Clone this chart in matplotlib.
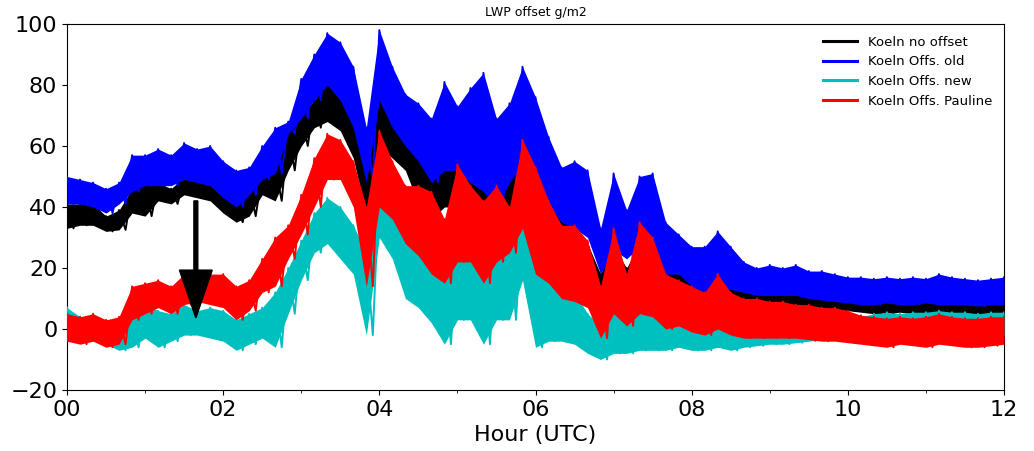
import numpy as np
import matplotlib
matplotlib.use("Agg")
import matplotlib.pyplot as plt

# sample hours (10-minute steps, 0..12 h); hi/lo = visible extent of each band
hours = np.arange(73) / 6.0

black_hi = [41, 41, 41, 37, 39, 46, 47, 48, 46, 50, 49, 47,
            44, 42, 47, 51, 53, 65, 70, 75, 81, 76, 67, 50,
            79, 68, 62, 58, 49, 54, 56, 49, 47, 40, 49, 58,
            45, 42, 36, 33, 28, 18, 27, 20, 28, 26, 19, 18,
            17, 16, 20, 15, 14, 13, 13, 13, 12.5, 12, 11.5, 11,
            10.5, 10, 10, 9.5, 10, 9.5, 9.5, 10, 9.5, 9.5, 9, 9.5, 9.5]
black_lo = [33, 34, 34, 32, 32.5, 38, 37, 42, 41, 44, 43, 42,
            38, 35, 37, 44, 42, 52, 60, 66, 68, 65, 56, 37,
            60, 56, 52, 41, 36, 40, 40, 38, 36, 31, 40, 44,
            35, 33, 28, 24, 20, 10, 15, 12, 15, 15, 12, 12,
            10, 10, 11, 10, 9, 8.5, 8.5, 8, 8, 7.5, 7, 6.5,
            6, 5.5, 5, 5, 5.5, 5, 5, 5.5, 5, 5, 4.5, 5, 5]

blue_hi = [50, 49, 48, 46, 48, 57, 57, 59, 57, 61, 59, 60,
           55, 52, 53, 60, 66, 68, 82, 90, 97, 94, 86, 66,
           98, 86, 77, 74, 69, 81, 73, 79, 84, 69, 74, 86,
           76, 63, 53, 55, 52, 33, 51, 39, 50, 51, 35, 31,
           27, 27, 32, 27, 22, 20, 21, 20, 21, 19, 19, 18,
           17, 17, 16.5, 17, 16.5, 17, 16.5, 18, 17, 16.5, 16, 16.5, 17]
blue_lo = [41, 41, 40, 38, 41, 45, 47, 47, 47, 49, 48, 47,
           43, 40, 44, 49, 51, 64, 69, 75, 80, 75, 66, 48,
           75, 66, 60, 55, 48, 52, 52, 48, 45, 40, 48, 55,
           44, 41, 35, 33, 30, 18, 26, 23, 27, 25, 18, 18,
           14, 12, 14, 13, 12, 11, 11, 11, 11, 10, 9.5, 9,
           8.5, 8, 8, 8.5, 8, 8, 8.5, 8, 8, 8, 7.5, 8, 8]

cyan_hi = [7, 4, 4, 2, 0, 3, 8, 6, 5, 8, 6, 7,
           6, 3, 5, 7, 12, 20, 29, 38, 43, 40, 34, 25,
           48, 38, 31, 29, 25, 23, 27, 25, 23, 31, 31, 38,
           23, 18, 14, 12, 5, 1, 7, 3, 5, 5, 1, 1,
           1, 1, 4, 1, 0, 0, 0, 1, 1, 2, 2, 2.5,
           3, 4, 5, 5.5, 5, 5.5, 5.5, 6, 5.5, 5.5, 5, 5.5, 5.5]
cyan_lo = [-4, -4, -4, -5, -7, -6, -3, -6, -4, -2, -2, -3,
           -4, -7, -5, -3, -6, 5, 16, 25, 28, 23, 18, -2,
           30, 23, 10, 7, 2, -5, 3, 3, -5, 3, 3, 16,
           -6, -4, -4, -5, -8, -10, -8, -8, -7, -7, -7, -6,
           -7, -7, -6, -7, -6, -5.5, -5, -5, -4.5, -4, -3.5, -3,
           -3, -3, -2.5, -2.5, -3, -2.5, -2.5, -2, -2.5, -2.5, -2.5, -2, -2]

red_hi = [5, 4, 5, 3, 4, 14, 15, 16, 14, 18, 19, 18,
          18, 14, 16, 23, 30, 34, 44, 56, 64, 62, 55, 40,
          65, 55, 47, 47, 45, 36, 54, 47, 42, 47, 40, 62,
          53, 42, 34, 34, 29, 14, 33, 18, 35, 30, 18, 16,
          14, 12, 18, 12, 10, 10, 9, 9, 8, 8, 7, 7,
          6, 4.5, 4, 3.5, 4, 3.5, 4, 5, 4, 3.5, 3.5, 4, 4]
red_lo = [-4, -5, -4, -6, -5, 3, 5, 7, 5, 8, 9, 8,
          7, 3, 6, 12, 14, 23, 31, 40, 49, 49, 40, 14,
          40, 36, 28, 24, 18, 15, 22, 22, 15, 22, 25, 33,
          18, 15, 10, 9, 7, -3, 5, 1, 5, 4, 0, 1,
          -1, -2, 0, -2, -3, -3, -3, -3, -3, -3.5, -4, -4,
          -4.5, -5, -5.5, -6, -5, -5.5, -6, -5, -5.5, -6, -6, -5.5, -5]

series = [
    ("Koeln no offset", black_hi, black_lo, "k"),
    ("Koeln Offs. old", blue_hi, blue_lo, "b"),
    ("Koeln Offs. new", cyan_hi, cyan_lo, "c"),
    ("Koeln Offs. Pauline", red_hi, red_lo, "r"),
]

xticks = [0, 2, 4, 6, 8, 10, 12]
xticklabels = ["00", "02", "04", "06", "08", "10", "12"]
yticks = [-20, 0, 20, 40, 60, 80, 100]

fig = plt.figure(figsize=(10.34, 4.51), dpi=100)
ax = fig.add_axes([0.0648, 0.1353, 0.9062, 0.8115])

half_step = 1.0 / 12.0
for i, (label, hi, lo, col) in enumerate(series):
    z = 2 + i
    ax.fill_between(hours, lo, hi, color=col, lw=0, zorder=z)
    x = np.empty(2 * len(hours))
    y = np.empty(2 * len(hours))
    x[0::2] = hours
    x[1::2] = hours + half_step
    y[0::2] = hi
    y[1::2] = lo
    ax.plot(x, y, color=col, lw=1.4, label=label, zorder=z)

ax.arrow(1.65, 42, 0, -22.7, width=0.05, head_width=0.42, head_length=15.7,
         fc="k", ec="k", zorder=10)

ax.set_xlim(0, 12)
ax.set_ylim(-20, 100)
ax.set_xticks(xticks)
ax.set_xticklabels(xticklabels)
ax.set_xticks(np.arange(1, 12, 2), minor=True)
ax.set_yticks(yticks)
ax.tick_params(axis="both", which="major", labelsize=16)
ax.set_xlabel("Hour (UTC)", fontsize=16)
ax.set_title("LWP offset g/m2", fontsize=9)
leg = ax.legend(loc="upper right", frameon=False, fontsize=9.5, handlelength=2.6)
for line in leg.get_lines():
    line.set_linewidth(2.2)

fig.savefig("out.png", dpi=100)
